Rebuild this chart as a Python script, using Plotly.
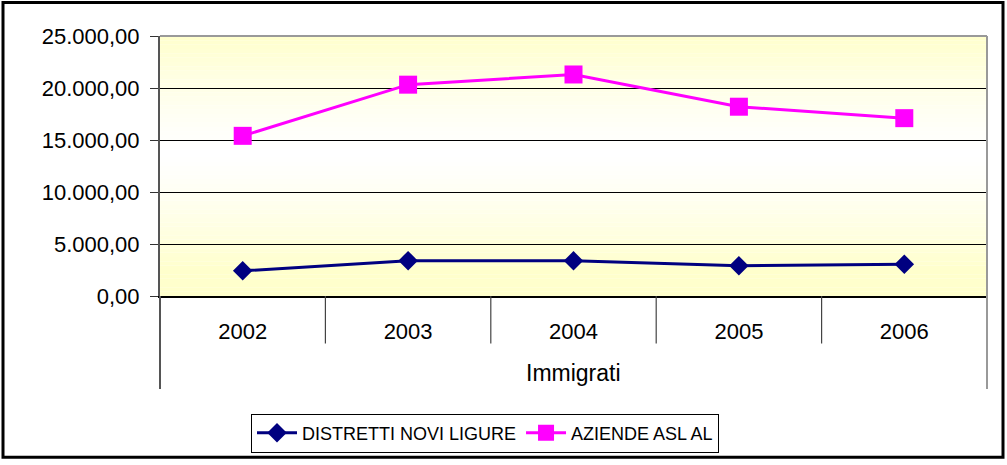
import plotly.graph_objects as go

years = ["2002", "2003", "2004", "2005", "2006"]
group_label = "Immigrati"
distretti = [2420, 3400, 3380, 2900, 3050]
aziende = [15400, 20320, 21300, 18200, 17100]
y_ticks = [0, 5000, 10000, 15000, 20000, 25000]

W, H = 1007, 465
L, R, T, B = 160, 20, 36, 166
plot_h = H - T - B
pw = W - L - R

fig = go.Figure()
fig.add_trace(go.Scatter(
    x=years, y=distretti, name="DISTRETTI NOVI LIGURE", mode="lines+markers",
    line=dict(color="#000080", width=3),
    marker=dict(symbol="diamond", size=15, color="#000080"),
))
fig.add_trace(go.Scatter(
    x=years, y=aziende, name="AZIENDE ASL AL", mode="lines+markers",
    line=dict(color="#FF00FF", width=3),
    marker=dict(symbol="square", size=18, color="#FF00FF"),
))

shapes = []
# gradient background of plot area (yellow - white - yellow)
n = 60
top = (255, 255, 204)
for i in range(n):
    f0, f1 = i / n, (i + 1) / n
    fm = (f0 + f1) / 2
    t = abs(fm - 0.55) / 0.45
    t = min(t, 1.0) ** 1.3
    c = tuple(int(round(255 + (top[k] - 255) * t)) for k in range(3))
    shapes.append(dict(type="rect", xref="x domain", yref="y domain",
                       x0=0, x1=1, y0=f0, y1=f1, layer="below", line_width=0,
                       fillcolor="rgb(%d,%d,%d)" % c))
# plot frame (top & right)
shapes.append(dict(type="line", xref="x domain", yref="y domain", x0=0, x1=1, y0=1, y1=1,
                   line=dict(color="#999999", width=2)))
shapes.append(dict(type="line", xref="x domain", yref="y domain", x0=1, x1=1, y0=1, y1=-94 / plot_h,
                   line=dict(color="#999999", width=2)))
# category separators
for i in range(1, len(years)):
    xpos = i - 0.5
    shapes.append(dict(type="line", xref="x", yref="y domain", x0=xpos, x1=xpos,
                       y0=0, y1=-48 / plot_h, line=dict(color="#444444", width=1.2)))
# left axis extension
shapes.append(dict(type="line", xref="x domain", yref="y domain", x0=0, x1=0, y0=0, y1=-94 / plot_h,
                   line=dict(color="#555555", width=2)))
# outer border
shapes.append(dict(type="rect", xref="paper", yref="paper",
                   x0=(3 - L) / pw, x1=(1003 - L) / pw,
                   y0=(H - B - 462) / plot_h, y1=(H - B - 2) / plot_h,
                   line=dict(color="black", width=3), fillcolor="rgba(0,0,0,0)"))

fig.update_layout(
    width=W, height=H,
    margin=dict(l=L, r=R, t=T, b=B),
    paper_bgcolor="white", plot_bgcolor="rgba(0,0,0,0)",
    separators=",.",
    font=dict(family="Liberation Sans, Arial, sans-serif", color="black"),
    shapes=shapes,
    showlegend=True,
    legend=dict(orientation="h", x=(485 - L) / pw, xanchor="center",
                y=(H - B - 418) / plot_h, yanchor="top",
                bordercolor="black", borderwidth=1, bgcolor="white",
                font=dict(size=18), itemwidth=40, tracegroupgap=0),
    annotations=[dict(text=group_label, xref="paper", yref="paper", x=0.5, y=(H - B - 377) / plot_h,
                      showarrow=False, font=dict(size=23), xanchor="center", yanchor="middle")],
)
fig.update_xaxes(type="category", categoryorder="array", categoryarray=years,
                 range=[-0.5, len(years) - 0.5],
                 showline=True, linecolor="black", linewidth=1.5,
                 ticks="outside", ticklen=15, tickcolor="rgba(0,0,0,0)",
                 tickfont=dict(size=22), showgrid=False, zeroline=False, fixedrange=True)
fig.update_yaxes(range=[0, 25000], tickvals=y_ticks, tickformat=",.2f",
                 showgrid=True, gridcolor="black", gridwidth=1,
                 showline=True, linecolor="#555555", linewidth=2,
                 ticks="outside", ticklen=8, tickcolor="#333333",
                 ticklabelstandoff=6,
                 tickfont=dict(size=22), zeroline=False, fixedrange=True)

fig.write_html("out.html", config={"displayModeBar": False},
               post_script="document.body.style.margin='0';document.body.style.overflow='hidden';")
